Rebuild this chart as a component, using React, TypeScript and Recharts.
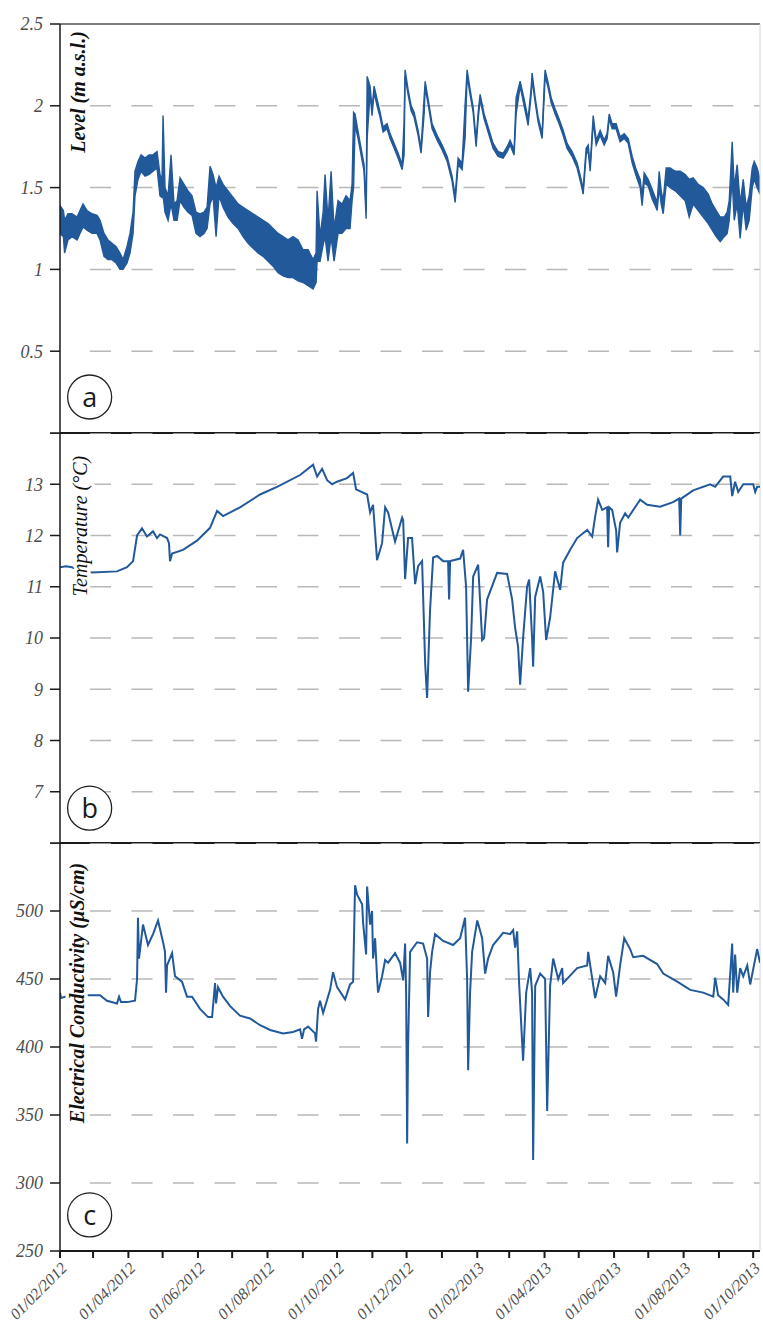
import React from "react";
import {
  ComposedChart, LineChart, Line, Area, XAxis, YAxis, CartesianGrid,
  ReferenceLine, ReferenceDot,
} from "recharts";

// month ticks along the shared time axis (labels on every second one)
const monthTicks = [
  "01/02/2012", "01/03/2012", "01/04/2012", "01/05/2012", "01/06/2012", "01/07/2012",
  "01/08/2012", "01/09/2012", "01/10/2012", "01/11/2012", "01/12/2012", "01/01/2013",
  "01/02/2013", "01/03/2013", "01/04/2013", "01/05/2013", "01/06/2013", "01/07/2013",
  "01/08/2013", "01/09/2013", "01/10/2013",
];
const lastDay = 614; // record ends around 07/10/2013

const levelTicks = [0, 0.5, 1, 1.5, 2, 2.5];
const tempTicks = [6, 7, 8, 9, 10, 11, 12, 13, 14];
const ecTicks = [250, 300, 350, 400, 450, 500, 550];

// Level (m a.s.l.): [day since 01/02/2012, low, high] of the noisy trace
const levelPoints: [number, number, number][] = [
  [0, 1.22, 1.39], [3, 1.2, 1.36], [4, 1.1, 1.3], [7, 1.18, 1.34], [10.5, 1.2, 1.34],
  [15, 1.18, 1.32], [17.5, 1.22, 1.36], [20.2, 1.26, 1.4], [23.7, 1.24, 1.36], [28.1, 1.22, 1.34],
  [32.5, 1.22, 1.33], [35.1, 1.18, 1.3], [38.6, 1.08, 1.22], [42.1, 1.06, 1.18], [45.6, 1.06, 1.16],
  [49.1, 1.04, 1.14], [52.6, 1.0, 1.1], [55.3, 1.0, 1.06], [58.8, 1.04, 1.14], [61.4, 1.1, 1.22],
  [64.1, 1.22, 1.35], [65.8, 1.45, 1.6], [68.4, 1.55, 1.66], [71.1, 1.6, 1.7], [74.6, 1.57, 1.68],
  [78.1, 1.58, 1.7], [81.6, 1.6, 1.7], [85.1, 1.62, 1.72], [87.7, 1.45, 1.58], [89.5, 1.44, 1.55],
  [90.4, 1.45, 1.94], [92.1, 1.35, 1.5], [94.8, 1.3, 1.45], [97.4, 1.4, 1.7], [100, 1.3, 1.4],
  [102.7, 1.3, 1.42], [105.3, 1.42, 1.56], [108.8, 1.38, 1.52], [112.3, 1.35, 1.48], [115.8, 1.33, 1.45],
  [119.3, 1.22, 1.35], [122.8, 1.2, 1.34], [126.3, 1.22, 1.35], [129, 1.25, 1.38], [131.6, 1.4, 1.63],
  [134.2, 1.45, 1.58], [136.9, 1.2, 1.5], [139.5, 1.45, 1.57], [143, 1.38, 1.52], [147.4, 1.32, 1.48],
  [151.8, 1.28, 1.44], [156.2, 1.25, 1.4], [160.6, 1.2, 1.38], [165, 1.16, 1.36], [169.3, 1.13, 1.34],
  [173.7, 1.1, 1.32], [178.1, 1.08, 1.3], [182.5, 1.05, 1.28], [186.9, 1.02, 1.25], [191.3, 0.98, 1.22],
  [195.7, 0.96, 1.2], [200, 0.95, 1.18], [204.4, 0.95, 1.2], [208.8, 0.93, 1.18], [213.2, 0.92, 1.12],
  [217.6, 0.9, 1.12], [222, 0.88, 1.06], [224.6, 0.92, 1.1], [225.5, 1.05, 1.48], [228.1, 1.05, 1.2],
  [230.8, 1.15, 1.35], [232.5, 1.2, 1.58], [235.1, 1.05, 1.3], [237.8, 1.2, 1.6], [240.4, 1.05, 1.25],
  [243.9, 1.22, 1.42], [247.4, 1.22, 1.4], [250.9, 1.25, 1.45], [254.4, 1.25, 1.42], [256.2, 1.42, 1.52],
  [257.5, 1.5, 1.96], [258.8, 1.88, 1.95], [261.5, 1.8, 1.84], [264.1, 1.7, 1.74], [266.7, 1.6, 1.64],
  [268.5, 1.31, 1.36], [269.4, 1.8, 2.18], [272, 2.08, 2.12], [273.7, 1.94, 1.98], [275.5, 2.08, 2.12],
  [278.1, 2.0, 2.04], [280.8, 1.93, 1.96], [283.4, 1.84, 1.87], [286.9, 1.86, 1.89], [289.5, 1.8, 1.83],
  [293.1, 1.74, 1.77], [296.6, 1.68, 1.71], [300.1, 1.61, 1.64], [301.8, 1.7, 1.9], [302.7, 2.18, 2.22],
  [305.3, 2.07, 2.1], [308, 1.97, 2.0], [310.6, 1.93, 1.96], [314.1, 1.82, 1.85], [316.7, 1.71, 1.74],
  [319.4, 1.95, 2.05], [320.3, 2.11, 2.15], [322.9, 2.01, 2.04], [326.4, 1.86, 1.89], [330.8, 1.79, 1.82],
  [335.2, 1.73, 1.76], [339.6, 1.66, 1.69], [343.9, 1.54, 1.57], [346.6, 1.41, 1.45], [349.2, 1.64, 1.68],
  [352.7, 1.61, 1.65], [355.3, 1.8, 2.0], [357.1, 2.18, 2.22], [359.7, 2.07, 2.1], [362.4, 1.96, 1.99],
  [365, 1.75, 1.79], [366.8, 1.92, 1.96], [368.5, 2.04, 2.07], [372, 1.92, 1.95], [375.5, 1.84, 1.87],
  [379.9, 1.74, 1.77], [384.3, 1.69, 1.72], [388.7, 1.68, 1.71], [392.2, 1.72, 1.75], [394.8, 1.76, 1.79],
  [398.3, 1.7, 1.73], [400.1, 1.95, 2.05], [403.6, 2.12, 2.15], [407.1, 2.0, 2.04], [410.6, 1.88, 1.92],
  [413.3, 2.07, 2.11], [414.1, 2.16, 2.2], [416.8, 2.02, 2.05], [419.4, 1.9, 1.93], [422.9, 1.8, 1.83],
  [424.7, 2.05, 2.12], [425.5, 2.18, 2.22], [428.2, 2.11, 2.14], [430.8, 2.02, 2.05], [434.3, 1.95, 1.98],
  [437.8, 1.89, 1.92], [441.3, 1.82, 1.85], [444.8, 1.74, 1.77], [449.2, 1.69, 1.72], [453.6, 1.62, 1.65],
  [457.1, 1.52, 1.55], [458.9, 1.46, 1.49], [461.5, 1.7, 1.74], [463.3, 1.73, 1.76], [465, 1.6, 1.63],
  [467.7, 1.9, 1.94], [470.3, 1.76, 1.79], [473.8, 1.82, 1.85], [477.3, 1.76, 1.79], [479.9, 1.8, 1.83],
  [481.7, 1.92, 1.95], [484.3, 1.86, 1.89], [487.8, 1.86, 1.89], [491.3, 1.78, 1.81], [494.9, 1.8, 1.83],
  [498.4, 1.77, 1.8], [501.9, 1.65, 1.69], [505.4, 1.57, 1.61], [508.9, 1.5, 1.55], [510.6, 1.39, 1.45],
  [512.4, 1.53, 1.59], [515.9, 1.51, 1.55], [519.4, 1.43, 1.49], [522.1, 1.39, 1.44], [523.8, 1.36, 1.41],
  [525.6, 1.5, 1.6], [527.3, 1.4, 1.48], [529.1, 1.34, 1.42], [531.7, 1.52, 1.62], [535.2, 1.5, 1.62],
  [539.6, 1.48, 1.6], [544, 1.45, 1.6], [548.4, 1.42, 1.58], [551.9, 1.32, 1.55], [555.4, 1.4, 1.56],
  [559.8, 1.36, 1.52], [564.2, 1.32, 1.5], [568.6, 1.28, 1.46], [572.1, 1.24, 1.4], [575.6, 1.2, 1.36],
  [579.1, 1.17, 1.32], [582.6, 1.2, 1.32], [585.2, 1.22, 1.35], [587, 1.3, 1.42], [589.6, 1.55, 1.78],
  [591.4, 1.3, 1.5], [594, 1.4, 1.64], [596.6, 1.19, 1.4], [599.3, 1.4, 1.55], [601.9, 1.24, 1.38],
  [604.5, 1.3, 1.45], [607.2, 1.5, 1.62], [608.9, 1.55, 1.66], [611.5, 1.5, 1.62], [614, 1.46, 1.55],
];

// Temperature (°C): [day, value]
const tempPoints: [number, number][] = [
  [0, 11.38], [5.3, 11.4], [10.5, 11.38], [15.8, 11.33], [28.1, 11.28], [50, 11.3], [58.8, 11.38],
  [64.1, 11.5], [67.6, 12.0], [71.9, 12.14], [76.3, 11.98], [81.6, 12.08], [85.1, 11.95], [87.7, 12.02],
  [93.9, 11.95], [95.6, 11.85], [96.5, 11.5], [98.3, 11.65], [107.9, 11.72], [120.2, 11.9], [131.6, 12.15],
  [137.8, 12.48], [143, 12.38], [157.9, 12.55], [175.5, 12.8], [190.4, 12.95], [210.6, 13.18], [222, 13.38],
  [225.5, 13.15], [229.9, 13.3], [234.3, 13.08], [238.7, 13.0], [243, 13.05], [251.8, 13.12], [257.1, 13.22],
  [259.7, 12.9], [269.4, 12.8], [272, 12.45], [274.6, 12.6], [278.1, 11.52], [282.5, 11.85], [285.2, 12.55],
  [287.8, 12.45], [293.9, 11.88], [300.1, 12.35], [301, 12.3], [302.7, 11.15], [305.3, 11.95], [308.8, 11.95],
  [311.5, 11.05], [314.1, 11.4], [317.6, 11.5], [320.3, 9.5], [322, 8.83], [324.6, 10.55], [327.3, 11.57],
  [330.8, 11.6], [336.1, 11.5], [340.4, 11.5], [341.3, 10.75], [342.2, 11.5], [351, 11.55], [353.6, 11.72],
  [356.2, 11.0], [358, 8.95], [360.6, 10.0], [362.4, 11.2], [366.8, 11.43], [370.3, 9.96], [372, 10.0],
  [374.6, 10.75], [383.4, 11.27], [392.2, 11.25], [396.6, 10.75], [399.2, 10.2], [401.8, 9.83], [403.6, 9.09],
  [406.2, 10.0], [409.7, 11.0], [411.5, 11.14], [414.1, 10.0], [415, 9.44], [416.8, 10.8], [421.2, 11.2],
  [423.8, 10.9], [426.4, 9.96], [429.9, 10.4], [434.3, 11.3], [438.7, 10.94], [441.3, 11.47], [447.5, 11.72],
  [453.6, 11.95], [462.4, 12.11], [466.8, 11.98], [469.4, 12.37], [472, 12.7], [475.6, 12.5], [479.9, 12.55],
  [480.8, 11.77], [481.7, 12.55], [484.3, 12.5], [487.8, 12.1], [488.7, 11.67], [491.3, 12.25], [495.7, 12.43],
  [498.4, 12.35], [508.9, 12.7], [515, 12.6], [526.4, 12.56], [537.8, 12.65], [543.1, 12.72], [544, 12.0],
  [544.9, 12.72], [555.4, 12.88], [570.3, 13.0], [574.7, 12.95], [581.7, 13.15], [587.9, 13.15], [589.6, 12.77],
  [592.2, 13.05], [594.9, 12.85], [599.3, 13.0], [608, 13.0], [609.8, 12.85], [611.5, 12.95], [614, 12.95],
];

// Electrical conductivity (µS/cm): [day, value]
const ecPoints: [number, number][] = [
  [0, 440], [0.9, 436], [8.8, 438], [23.7, 438], [35.1, 438], [41.2, 434], [50, 432], [51.8, 437],
  [53.5, 433], [58.8, 433], [65.8, 434], [67.6, 450], [68.4, 495], [69.3, 465], [72.8, 490], [77.2, 475],
  [81.6, 483], [86, 493], [90.4, 477], [92.1, 470], [93, 440], [93.9, 460], [98.3, 469], [100.9, 452],
  [107, 448], [111.4, 437], [115.8, 437], [122.8, 428], [129.9, 422], [133.4, 422], [136, 447], [136.9, 432],
  [138.6, 444], [143, 437], [149.2, 430], [157.9, 423], [166.7, 421], [175.5, 416], [184.3, 412.5],
  [195.7, 410], [204.4, 411], [210.6, 413], [212.3, 406], [214.1, 413], [217.6, 415], [223.7, 410],
  [224.6, 404], [226.4, 428], [228.1, 434], [230.8, 425], [236.9, 442], [239.5, 455], [243, 444],
  [250.1, 435], [254.4, 446], [257.1, 448], [258.8, 519], [260.6, 512], [265, 505], [265.9, 491],
  [268.5, 468], [269.4, 518], [272, 490], [273.7, 500], [274.6, 465], [276.4, 480], [278.1, 451],
  [279, 440], [282.5, 452], [285.2, 464], [287.8, 462], [293.9, 469], [298.3, 462], [301, 449],
  [302.7, 476], [303.6, 440], [304.5, 329], [305.3, 400], [307.1, 470], [309.7, 473], [313.2, 477],
  [318.5, 476], [322, 465], [322.9, 422], [324.6, 455], [326.4, 470], [329, 483], [336.1, 478],
  [344.8, 475], [351, 480], [355.3, 495], [357.1, 450], [358, 383], [359.7, 440], [361.5, 470],
  [366, 493], [370.3, 480], [372.9, 454], [375.5, 465], [379.9, 475], [388.7, 484], [394.8, 483],
  [397.5, 486], [399.2, 473], [401, 485], [402.7, 447], [405.4, 403], [406.2, 390], [408.9, 440],
  [412.4, 458], [414.1, 440], [415, 317], [416.8, 445], [421.2, 454], [425.5, 450], [427.3, 353],
  [429.9, 445], [432.6, 465], [437, 450], [440.5, 458], [441.3, 447], [453.6, 458], [462.4, 460],
  [463.3, 470], [469.4, 436], [473.8, 452], [478.2, 447], [480.8, 467], [485.2, 455], [487.8, 437],
  [491.3, 460], [494.9, 480], [500.1, 472], [502.8, 466], [511.5, 467], [523.8, 461], [529.1, 454],
  [541.4, 448], [552.8, 442], [564.2, 440], [573, 437], [574.7, 451], [577.3, 438], [581.7, 435],
  [586.1, 431], [589.6, 476], [590.5, 440], [592.2, 468], [594, 440], [596.6, 458], [599.3, 452],
  [602.8, 460], [605.4, 446], [611.5, 472], [614, 462],
];

const BLUE = "#22599a";
const SERIF = "'Liberation Serif', 'Times New Roman', serif";
const AXIS = "#1a1a1a";
const GRID = "#b8b8b8";

const toDay = (s: string) => {
  const [d, m, y] = s.split("/").map(Number);
  return Math.round((Date.UTC(y, m - 1, d) - Date.UTC(2012, 1, 1)) / 86400000);
};
const tickDays = monthTicks.map(toDay);

const levelRows = levelPoints.map(([day, lo, hi]) => ({ day, range: [lo, hi] }));
const tempRows = tempPoints.map(([day, v]) => ({ day, v }));
const ecRows = ecPoints.map(([day, v]) => ({ day, v }));

// axis text inside the chart svg is serif italic; force it over any page-level rule
const css = `
body { margin: 0; }
#root svg text.serif-tick {
  font-family: 'Liberation Serif', 'Times New Roman', serif !important;
  font-style: italic !important;
  font-weight: normal !important;
}
#root svg .recharts-label, #root svg .recharts-label tspan {
  font-family: 'Open Sans', 'Noto Sans', sans-serif !important;
}
`;

function makeYTick(hidden: number[]) {
  return function YTick(props: any) {
    const { x, y, payload } = props;
    if (hidden.includes(payload.value)) return <g />;
    return (
      <text className="serif-tick" x={x} y={y} dy="0.36em" textAnchor="end" fill="#4d4d4d" fontSize={18}>
        {String(payload.value)}
      </text>
    );
  };
}

function yAxisProps(domain: number[], ticks: number[], hidden: number[]) {
  const YTick = makeYTick(hidden);
  return {
    type: "number" as const,
    domain,
    ticks,
    interval: 0 as const,
    width: 60,
    tickSize: 10,
    tickMargin: 7,
    allowDataOverflow: true,
    axisLine: { stroke: AXIS, strokeWidth: 1.5 },
    tickLine: { stroke: AXIS, strokeWidth: 1.5 },
    tick: <YTick />,
  };
}

const xAxisBase = {
  type: "number" as const,
  dataKey: "day",
  domain: [0, lastDay],
  ticks: tickDays,
  interval: 0 as const,
  tickSize: 7,
  allowDataOverflow: true,
  axisLine: { stroke: AXIS, strokeWidth: 2 },
  tickLine: { stroke: AXIS, strokeWidth: 2 },
};

function DateTick(props: any) {
  const { x, y, payload } = props;
  const i = tickDays.indexOf(payload.value);
  if (i % 2 !== 0) return <g />;
  return (
    <text
      className="serif-tick"
      transform={`translate(${x + 8},${y + 9}) rotate(-45)`}
      textAnchor="end"
      fill="#4d4d4d"
      fontSize={16}
    >
      {monthTicks[i]}
    </text>
  );
}

function panelLabel(letter: string) {
  return {
    value: letter,
    position: "center" as const,
    fill: "#1a1a1a",
    fontSize: 27,
  };
}

const grid = (
  <CartesianGrid vertical={false} x={90} width={670} stroke={GRID} strokeWidth={1.5} strokeDasharray="21 20.5" />
);

function AxisTitle({ x, y, text, bold }: { x: number; y: number; text: string; bold?: boolean }) {
  return (
    <text
      transform={`translate(${x},${y}) rotate(-90)`}
      textAnchor="middle"
      dominantBaseline="central"
      fill="#111"
      stroke="#fff"
      strokeWidth={7}
      strokeLinejoin="round"
      paintOrder="stroke"
      style={{ fontFamily: SERIF, fontStyle: "italic", fontWeight: bold ? "bold" : "normal", fontSize: 20 }}
    >
      {text}
    </text>
  );
}

export default function App() {
  return (
    <div style={{ position: "relative", width: 763, height: 1324, background: "#fff" }}>
      <style>{css}</style>

      <div style={{ position: "absolute", left: 0, top: 0 }}>
        <ComposedChart width={763} height={441} data={levelRows} margin={{ top: 24, right: 3, bottom: 0, left: 0 }}>
          {grid}
          <XAxis {...xAxisBase} height={8} tick={false} />
          <YAxis {...yAxisProps([0, 2.5], levelTicks, [0])} />
          <ReferenceLine y={2.5} stroke="#7d7d7d" strokeWidth={2} />
          <ReferenceLine x={lastDay} stroke="#d6d6d6" strokeWidth={1} />
          <Area
            type="linear"
            dataKey="range"
            stroke={BLUE}
            strokeWidth={1.4}
            fill={BLUE}
            fillOpacity={1}
            dot={false}
            activeDot={false}
            isAnimationActive={false}
          />
          <ReferenceDot x={26} y={0.22} r={22} fill="#fff" stroke="#222" strokeWidth={1.3} label={panelLabel("a")} />
        </ComposedChart>
      </div>

      <div style={{ position: "absolute", left: 0, top: 433 }}>
        <LineChart width={763} height={418} data={tempRows} margin={{ top: 0, right: 3, bottom: 0, left: 0 }}>
          {grid}
          <XAxis {...xAxisBase} height={8} tick={false} />
          <YAxis {...yAxisProps([6, 14], tempTicks, [6, 14])} />
          <ReferenceLine x={lastDay} stroke="#d6d6d6" strokeWidth={1} />
          <Line type="linear" dataKey="v" stroke={BLUE} strokeWidth={2} dot={false} activeDot={false} isAnimationActive={false} />
          <ReferenceDot x={26} y={6.68} r={22} fill="#fff" stroke="#222" strokeWidth={1.3} label={panelLabel("b")} />
        </LineChart>
      </div>

      <div style={{ position: "absolute", left: 0, top: 843 }}>
        <LineChart width={763} height={481} data={ecRows} margin={{ top: 0, right: 3, bottom: 0, left: 0 }}>
          {grid}
          <XAxis {...xAxisBase} height={73} tick={<DateTick />} />
          <YAxis {...yAxisProps([250, 550], ecTicks, [550])} />
          <ReferenceLine x={lastDay} stroke="#d6d6d6" strokeWidth={1} />
          <Line type="linear" dataKey="v" stroke={BLUE} strokeWidth={2} dot={false} activeDot={false} isAnimationActive={false} />
          <ReferenceDot x={26} y={276.5} r={22} fill="#fff" stroke="#222" strokeWidth={1.3} label={panelLabel("c")} />
        </LineChart>
      </div>

      <svg width={763} height={1324} style={{ position: "absolute", left: 0, top: 0, pointerEvents: "none" }}>
        <AxisTitle x={78} y={92} text="Level (m a.s.l.)" bold />
        <AxisTitle x={80} y={526} text="Temperature (°C)" />
        <AxisTitle x={77} y={993} text="Electrical Conductivity (µS/cm)" bold />
      </svg>
    </div>
  );
}
